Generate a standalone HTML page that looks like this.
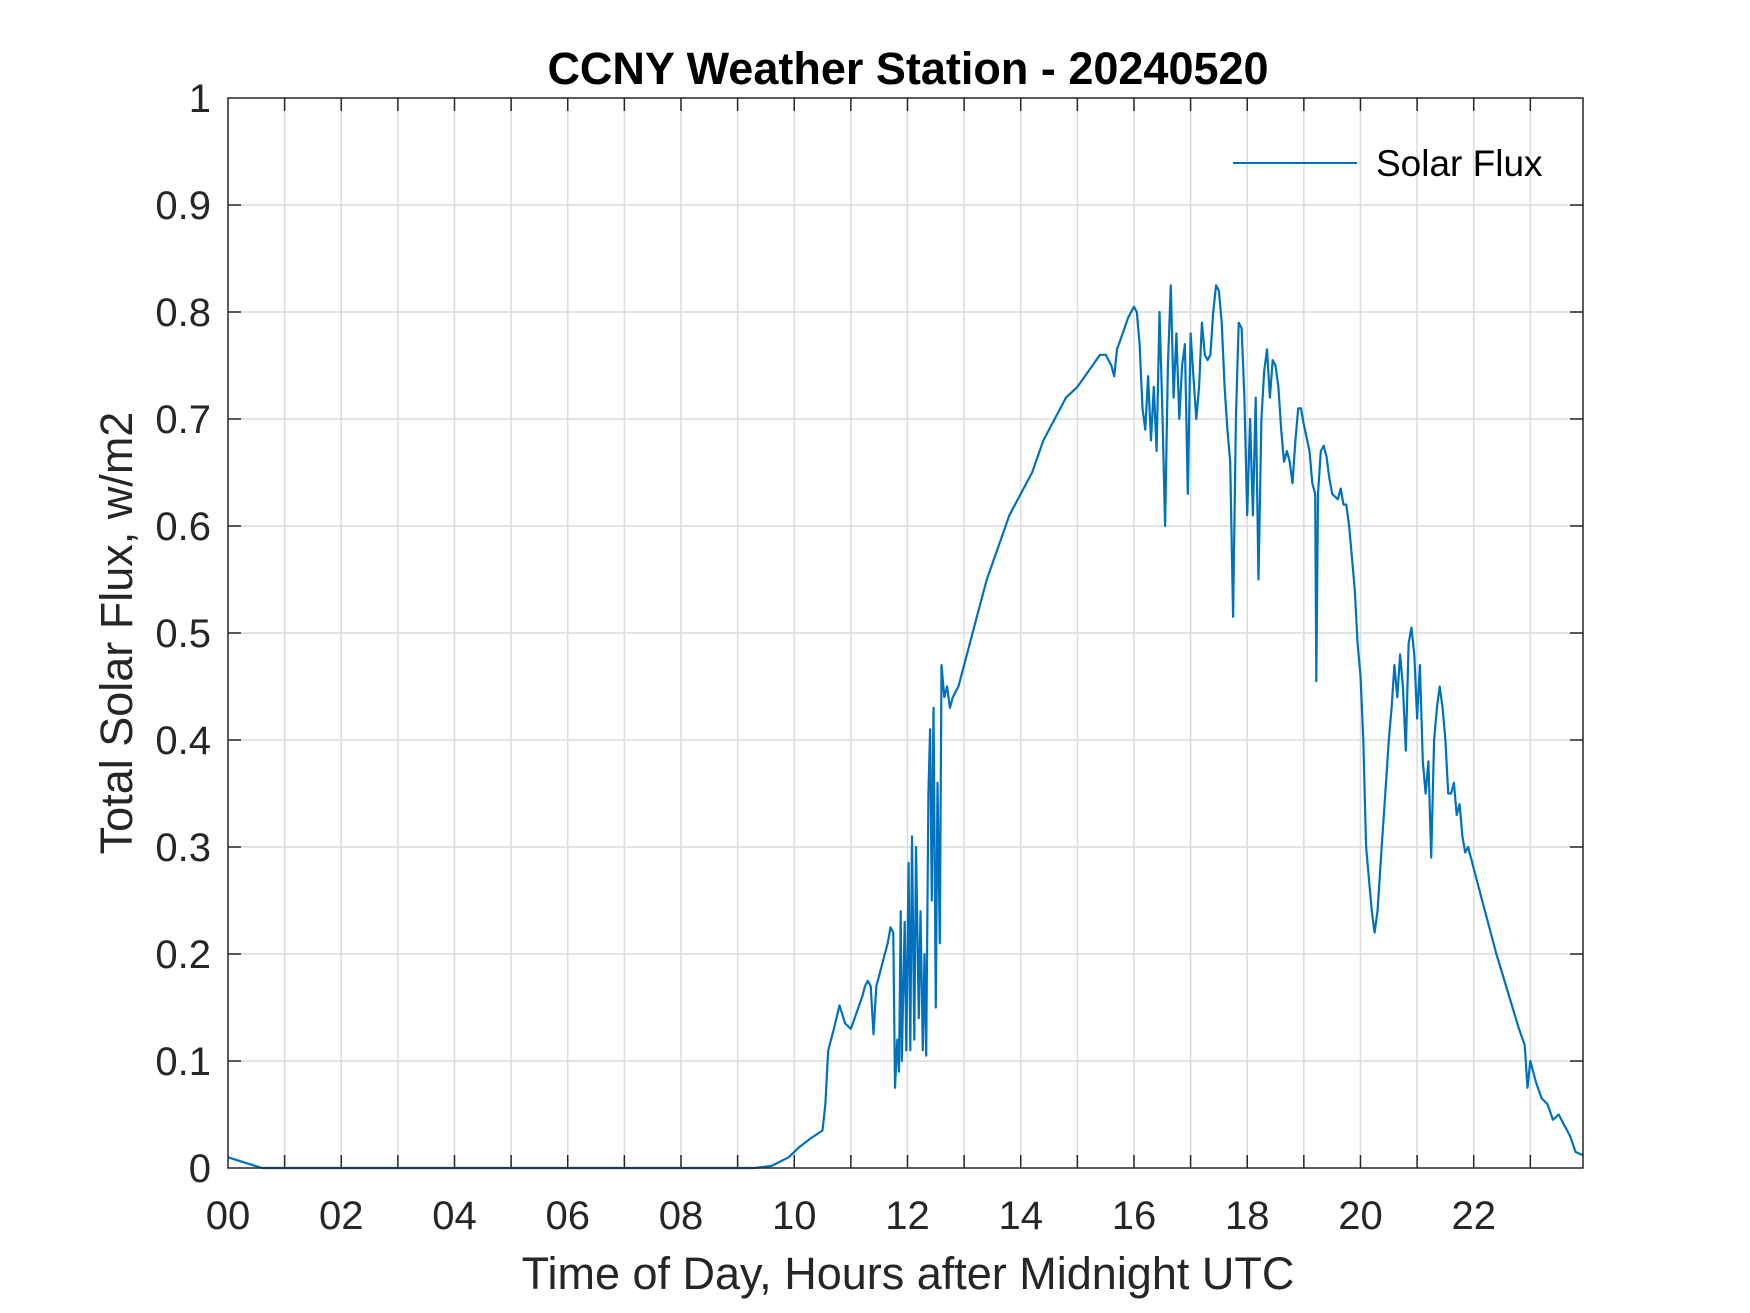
<!DOCTYPE html>
<html><head><meta charset="utf-8"><style>
html,body{margin:0;padding:0;background:#fff;}
svg{display:block;font-family:"Liberation Sans",Arial,sans-serif;}
</style></head><body>
<svg id="chart" width="1750" height="1313" viewBox="0 0 1750 1313" xmlns="http://www.w3.org/2000/svg">
<rect x="0" y="0" width="1750" height="1313" fill="#fff"/>
<g id="grid"></g>
<g id="ticks"></g>
<g id="series"></g>
<rect x="228" y="98" width="1355" height="1070" fill="none" stroke="#262626" stroke-width="1.5"/>
<text x="908" y="84" text-anchor="middle" font-size="45" font-weight="bold" fill="#000">CCNY Weather Station - 20240520</text>
<text x="908" y="1289" text-anchor="middle" font-size="45" fill="#262626">Time of Day, Hours after Midnight UTC</text>
<text transform="translate(132,633) rotate(-90)" text-anchor="middle" font-size="45" fill="#262626">Total Solar Flux, w/m2</text>
<g>
<line x1="1233" y1="163" x2="1357" y2="163" stroke="#0072BD" stroke-width="2"/>
<text x="1376" y="176" font-size="37" fill="#000">Solar Flux</text>
</g>
</svg>
<script>
const hours=[0,0.3,0.6,9.3,9.6,9.9,10.1,10.3,10.5,10.55,10.6,10.7,10.8,10.9,11.0,11.1,11.2,11.25,11.3,11.35,11.4,11.45,11.5,11.6,11.65,11.7,11.75,11.78,11.82,11.85,11.88,11.9,11.95,11.98,12.02,12.05,12.08,12.12,12.15,12.2,12.23,12.27,12.3,12.33,12.37,12.4,12.43,12.46,12.5,12.53,12.57,12.6,12.65,12.7,12.75,12.8,12.9,13.0,13.2,13.4,13.6,13.8,14.0,14.2,14.4,14.6,14.8,15.0,15.2,15.4,15.5,15.6,15.65,15.7,15.8,15.9,16.0,16.05,16.1,16.15,16.2,16.25,16.3,16.35,16.4,16.45,16.5,16.55,16.6,16.65,16.7,16.75,16.8,16.85,16.9,16.95,17.0,17.05,17.1,17.15,17.2,17.25,17.3,17.35,17.4,17.45,17.5,17.55,17.6,17.65,17.7,17.75,17.8,17.85,17.9,17.95,18.0,18.05,18.1,18.15,18.2,18.25,18.3,18.35,18.4,18.45,18.5,18.55,18.6,18.65,18.7,18.75,18.8,18.85,18.9,18.95,19.0,19.1,19.15,19.2,19.22,19.25,19.3,19.35,19.4,19.45,19.5,19.6,19.65,19.7,19.75,19.8,19.85,19.9,19.95,20.0,20.05,20.1,20.2,20.25,20.3,20.4,20.45,20.5,20.55,20.6,20.65,20.7,20.75,20.8,20.85,20.9,20.95,21.0,21.05,21.1,21.15,21.2,21.25,21.3,21.35,21.4,21.45,21.5,21.55,21.6,21.65,21.7,21.75,21.8,21.85,21.9,22.0,22.2,22.4,22.6,22.8,22.9,22.95,23.0,23.1,23.2,23.3,23.4,23.5,23.6,23.7,23.8,23.93];
const flux=[0.01,0.005,0,0,0.002,0.01,0.02,0.028,0.035,0.06,0.11,0.13,0.152,0.135,0.13,0.145,0.16,0.17,0.175,0.17,0.125,0.17,0.18,0.2,0.21,0.225,0.22,0.075,0.12,0.09,0.24,0.1,0.23,0.11,0.285,0.11,0.31,0.12,0.3,0.14,0.24,0.11,0.2,0.105,0.35,0.41,0.25,0.43,0.15,0.36,0.21,0.47,0.44,0.45,0.43,0.44,0.45,0.47,0.51,0.55,0.58,0.61,0.63,0.65,0.68,0.7,0.72,0.73,0.745,0.76,0.76,0.75,0.74,0.765,0.78,0.795,0.805,0.8,0.77,0.71,0.69,0.74,0.68,0.73,0.67,0.8,0.71,0.6,0.75,0.825,0.72,0.78,0.7,0.75,0.77,0.63,0.78,0.74,0.7,0.73,0.79,0.76,0.755,0.76,0.8,0.825,0.82,0.79,0.73,0.69,0.66,0.515,0.7,0.79,0.785,0.72,0.61,0.7,0.61,0.72,0.55,0.7,0.745,0.765,0.72,0.755,0.75,0.73,0.69,0.66,0.67,0.66,0.64,0.68,0.71,0.71,0.695,0.67,0.64,0.63,0.455,0.63,0.67,0.675,0.665,0.645,0.63,0.625,0.635,0.62,0.62,0.6,0.57,0.54,0.49,0.46,0.4,0.3,0.24,0.22,0.24,0.32,0.36,0.4,0.43,0.47,0.44,0.48,0.45,0.39,0.49,0.505,0.48,0.42,0.47,0.38,0.35,0.38,0.29,0.4,0.43,0.45,0.43,0.4,0.35,0.35,0.36,0.33,0.34,0.31,0.295,0.3,0.28,0.24,0.2,0.165,0.13,0.115,0.075,0.1,0.08,0.065,0.06,0.045,0.05,0.04,0.03,0.015,0.012];
const xTickValues=[0,2,4,6,8,10,12,14,16,18,20,22];
const xTickLabels=["00","02","04","06","08","10","12","14","16","18","20","22"];
const yTickValues=[0,0.1,0.2,0.3,0.4,0.5,0.6,0.7,0.8,0.9,1];
const yTickLabels=["0","0.1","0.2","0.3","0.4","0.5","0.6","0.7","0.8","0.9","1"];

const L=228,R=1583,T=98,B=1168,XMAX=23.93;
const xs=v=>L+v/XMAX*(R-L);
const ys=v=>B-v*(B-T);
const NS='http://www.w3.org/2000/svg';
function mk(tag,attrs,parent){const e=document.createElementNS(NS,tag);for(const k in attrs)e.setAttribute(k,attrs[k]);parent.appendChild(e);return e;}
const grid=document.getElementById('grid'),ticks=document.getElementById('ticks'),series=document.getElementById('series');
for(let h=1;h<=23;h++){
  const x=xs(h);
  const g=mk('line',{x1:x,y1:T,x2:x,y2:B,stroke:'#dcdcdc','stroke-width':1.5},grid);
  
  
  [[B,B-13],[T,T+13]].forEach(p=>{const t=mk('line',{x1:x,y1:p[0],x2:x,y2:p[1],stroke:'#262626','stroke-width':1.5},ticks);
    
    });
}
xTickValues.forEach((v,i)=>{
  const t=mk('text',{x:xs(v),y:1229,'text-anchor':'middle','font-size':40,fill:'#262626'},ticks);
  t.textContent=xTickLabels[i];
  
  
});
yTickValues.forEach((v,i)=>{
  const y=ys(v);
  if(v>0&&v<1){
    const g=mk('line',{x1:L,y1:y,x2:R,y2:y,stroke:'#dcdcdc','stroke-width':1.5},grid);
    
    
    [[L,L+13],[R,R-13]].forEach(p=>{const t=mk('line',{x1:p[0],y1:y,x2:p[1],y2:y,stroke:'#262626','stroke-width':1.5},ticks);
      
      });
  }
  const t=mk('text',{x:211,y:y+14,'text-anchor':'end','font-size':40,fill:'#262626'},ticks);
  t.textContent=yTickLabels[i];
  
  
});
const d=hours.map((h,i)=>(i?'L':'M')+xs(h).toFixed(1)+','+ys(flux[i]).toFixed(1)).join(' ');
const p=mk('path',{d:d,fill:'none',stroke:'#0072BD','stroke-width':2.2,'stroke-linejoin':'round'},series);


</script>
</body></html>
